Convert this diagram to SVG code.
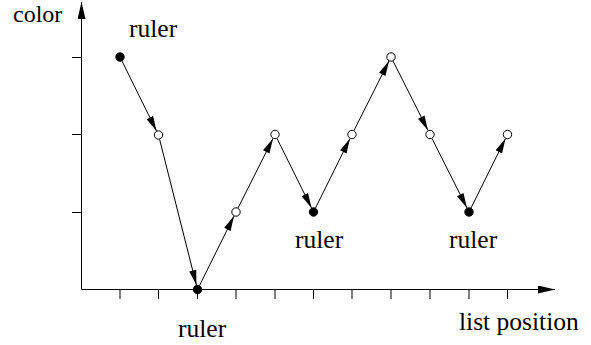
<svg xmlns="http://www.w3.org/2000/svg" width="591" height="345" viewBox="0 0 591 345">
<style>
.ax{stroke:#000;stroke-width:1;fill:none}
.e{stroke:#000;stroke-width:1;fill:none;marker-end:url(#ah)}
.f{fill:#000;stroke:#000;stroke-width:1}
.o{fill:#fff;stroke:#000;stroke-width:1}
text{font-family:'Liberation Serif','DejaVu Serif',serif;font-size:25.5px;fill:#000}
</style>
<defs>
<marker id="ah" markerUnits="userSpaceOnUse" viewBox="0 -4 15 8" refX="15" refY="0" markerWidth="15" markerHeight="8" orient="auto">
<path d="M0,-3.6 L15,0 L0,3.6 z" fill="#000"/>
</marker>
<marker id="axh" markerUnits="userSpaceOnUse" viewBox="0 -4 17 8" refX="17" refY="0" markerWidth="17" markerHeight="8" orient="auto">
<path d="M0,-4 L17,0 L0,4 z" fill="#000"/>
</marker>
</defs>
<g id="axes">
<line class="ax" x1="81.5" y1="289.5" x2="81.5" y2="2" marker-end="url(#axh)"/>
<line class="ax" x1="81.5" y1="289.5" x2="555" y2="289.5" marker-end="url(#axh)"/>
<path class="ax" d="M72,57.5H81.5M72,134.5H81.5M72,212.5H81.5"/>
<path class="ax" d="M120,289.5V299M158.5,289.5V299M197.5,289.5V299M236,289.5V299M275,289.5V299M313.5,289.5V299M352,289.5V299M391,289.5V299M430,289.5V299M469,289.5V299M507.5,289.5V299"/>
<text x="13" y="21.5" style="font-size:24px">color</text>
<text x="459" y="329.5">list position</text>
</g>
<g id="connectors">
<line class="e" x1="122" y1="61" x2="156.5" y2="131"/>
<line class="e" x1="159.6" y1="139.4" x2="196.4" y2="285.1"/>
<line class="e" x1="199.5" y1="285.5" x2="234" y2="216"/>
<line class="e" x1="238" y1="208" x2="273" y2="138.5"/>
<line class="e" x1="277" y1="138.5" x2="311.5" y2="208"/>
<line class="e" x1="315.5" y1="208" x2="350" y2="138.5"/>
<line class="e" x1="354" y1="130.5" x2="389" y2="61"/>
<line class="e" x1="393" y1="61" x2="428" y2="130.5"/>
<line class="e" x1="432" y1="138.5" x2="467" y2="208"/>
<line class="e" x1="471" y1="208" x2="505.5" y2="138.5"/>
</g>
<g id="n1"><circle class="f" cx="120" cy="57" r="4.2"/><text x="129" y="37">ruler</text></g>
<g id="n2"><circle class="o" cx="158.5" cy="135" r="4.2"/></g>
<g id="n3"><circle class="f" cx="197.5" cy="289.5" r="4.2"/><text x="178" y="336.5">ruler</text></g>
<g id="n4"><circle class="o" cx="236" cy="212" r="4.2"/></g>
<g id="n5"><circle class="o" cx="275" cy="134.5" r="4.2"/></g>
<g id="n6"><circle class="f" cx="313.5" cy="212" r="4.2"/><text x="295" y="247.5">ruler</text></g>
<g id="n7"><circle class="o" cx="352" cy="134.5" r="4.2"/></g>
<g id="n8"><circle class="o" cx="391" cy="57" r="4.2"/></g>
<g id="n9"><circle class="o" cx="430" cy="134.5" r="4.2"/></g>
<g id="n10"><circle class="f" cx="469" cy="212" r="4.2"/><text x="449" y="248">ruler</text></g>
<g id="n11"><circle class="o" cx="507.5" cy="134.5" r="4.2"/></g>
</svg>
